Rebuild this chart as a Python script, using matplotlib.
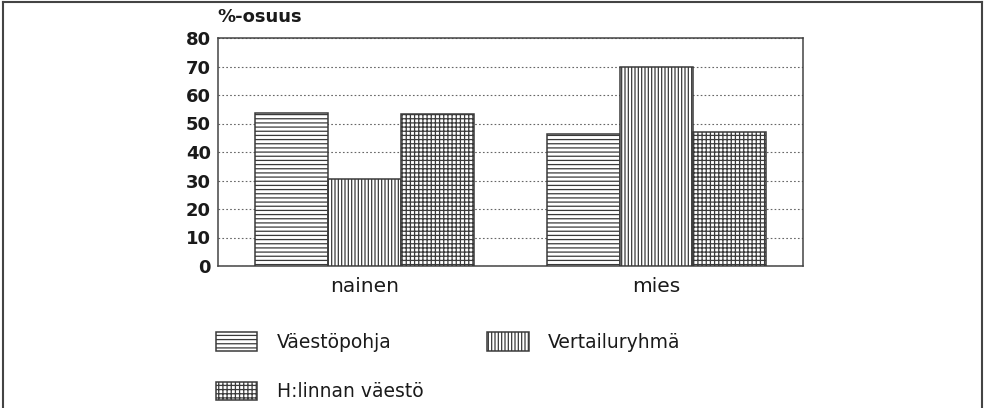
import matplotlib
matplotlib.use("Agg")
import matplotlib.pyplot as plt
from matplotlib.lines import Line2D
import numpy as np

categories = ["nainen", "mies"]
series_names = ["Väestöpohja", "Vertailuryhmä", "H:linnan väestö"]
vaestopohja = [53.7, 46.3]
vertailuryhma = [30.6, 69.8]
hlinnan = [53.3, 46.9]
yticks = [0, 10, 20, 30, 40, 50, 60, 70, 80]
ylabel = "%-osuus"

plt.rcParams['font.family'] = ['DejaVu Sans']
plt.rcParams['hatch.linewidth'] = 0.9

W, H = 985, 408
fig = plt.figure(figsize=(W / 100, H / 100), dpi=100)
ax = fig.add_axes([218 / W, 1 - 266 / H, (803 - 218) / W, (266 - 38) / H])

edge = '#3a3a3a'
x = np.arange(len(categories))
bw = 0.25
b1 = ax.bar(x - bw, vaestopohja, bw, facecolor='white', edgecolor=edge, hatch='----', linewidth=1.1, zorder=3, label=series_names[0])
b2 = ax.bar(x, vertailuryhma, bw, facecolor='white', edgecolor=edge, hatch='|||||', linewidth=1.1, zorder=3, label=series_names[1])
b3 = ax.bar(x + bw, hlinnan, bw, facecolor='white', edgecolor=edge, hatch='++++', linewidth=1.1, zorder=3, label=series_names[2])

ax.set_xlim(-0.5, 1.5)
ax.set_ylim(0, 80)
ax.set_yticks(yticks)
ax.set_xticks(x)
ax.set_xticklabels(categories)
ax.tick_params(axis='both', length=0, colors='#1a1a1a')
ax.tick_params(axis='y', pad=5, labelsize=13)
ax.tick_params(axis='x', pad=8, labelsize=14.5)
for lbl in ax.get_yticklabels():
    lbl.set_fontweight('bold')
ax.yaxis.grid(True, linestyle=(0, (1.5, 2.0)), color='#666666', linewidth=0.8, zorder=0)
ax.set_axisbelow(True)
for s in ax.spines.values():
    s.set_color('#444444')
    s.set_linewidth(1.1)

fig.text(217 / W, 1 - 17 / H, ylabel, fontsize=13, fontweight='bold', color='#1a1a1a', ha='left', va='center')

leg = fig.legend(handles=[b1, b3, b2], labels=[series_names[0], series_names[2], series_names[1]],
                 ncol=2, loc='upper left', bbox_to_anchor=(216 / W, 1 - 332 / H),
                 frameon=False, fontsize=13.5, handlelength=2.2, handleheight=1.15,
                 handletextpad=1.05, labelspacing=1.6, columnspacing=3.4,
                 borderpad=0, borderaxespad=0)
for t in leg.get_texts():
    t.set_color('#1a1a1a')

# outer frame (top, left, right)
fig.add_artist(Line2D([3 / W, 3 / W], [0, 1 - 2 / H], transform=fig.transFigure, color='#444444', linewidth=1.5))
fig.add_artist(Line2D([982 / W, 982 / W], [0, 1 - 2 / H], transform=fig.transFigure, color='#444444', linewidth=1.5))
fig.add_artist(Line2D([3 / W, 982 / W], [1 - 2 / H, 1 - 2 / H], transform=fig.transFigure, color='#444444', linewidth=1.5))

fig.savefig("out.png", dpi=100)
